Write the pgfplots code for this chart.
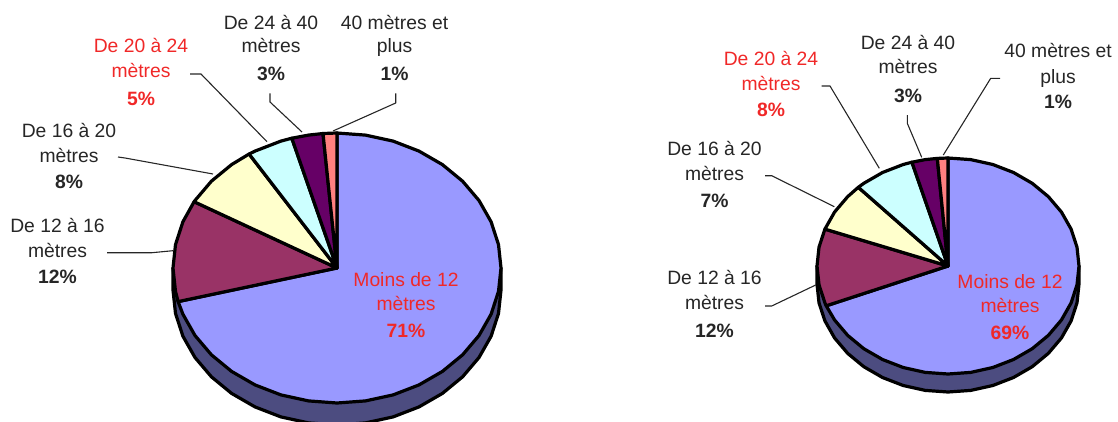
\documentclass[border=0pt]{standalone}
\usepackage{fontspec}
\setmainfont{Liberation Sans}
\usepackage{pgfplots}
\pgfplotsset{compat=1.18}
\definecolor{cA}{HTML}{9999FF}
\definecolor{cB}{HTML}{993366}
\definecolor{cC}{HTML}{FFFFCC}
\definecolor{cD}{HTML}{CCFFFF}
\definecolor{cE}{HTML}{660066}
\definecolor{cF}{HTML}{FF8080}
\definecolor{cS}{HTML}{4C4C80}
\definecolor{tk}{HTML}{262626}
\definecolor{tr}{HTML}{F02828}
\newcommand{\T}[4]{\node[anchor=base,inner sep=0pt,yshift=-7pt,text=#3,font=\fontsize{19.3}{21}\selectfont] at (axis cs:#1,#2) {#4};}
\newcommand{\B}[4]{\node[anchor=base,inner sep=0pt,yshift=-7pt,text=#3,font=\fontsize{19.3}{21}\selectfont\bfseries] at (axis cs:#1,#2) {#4};}
\begin{document}
\begin{tikzpicture}
\path[use as bounding box] (0,0) rectangle (1118pt,421pt);
\begin{axis}[at={(0,0)},anchor=south west,scale only axis,width=1118pt,height=421pt,
  xmin=0,xmax=1118,ymin=0,ymax=421,y dir=reverse,hide axis,no markers,
  every axis plot/.append style={sharp plot,line join=round}]
% ---------- left pie: side
\addplot[fill=cS,draw=black,line width=3.2pt] coordinates {(501,268)(501,290)(498.5,313.4)(491.1,336.2)(479,357.5)(462.6,376.8)(442.4,393.4)(419,406.9)(393.1,416.9)(365.5,422.9)(337,425)(308.5,422.9)(280.9,416.9)(255,406.9)(231.6,393.4)(211.4,376.8)(195,357.5)(182.9,336.2)(175.5,313.4)(173,290)(173,268)} -- cycle;
% slices
\addplot[fill=cA,draw=black,line width=3.2pt] coordinates {(337,268)(337,133)(365.5,135.1)(393.1,141.1)(419,151.1)(442.4,164.6)(462.6,181.2)(479,200.5)(491.1,221.8)(498.5,244.6)(501,268)(498.5,291.4)(491.1,314.2)(479,335.5)(462.6,354.8)(442.4,371.4)(419,384.9)(393.1,394.9)(365.5,400.9)(337,403)(308.5,400.9)(280.9,394.9)(255,384.9)(231.6,371.4)(211.4,354.8)(195,335.5)(182.9,314.2)(178.1,301.6)} -- cycle;
\addplot[fill=cB,draw=black,line width=3.2pt] coordinates {(337,268)(178.1,301.6)(175.5,291.4)(173,268)(175.5,244.6)(182.9,221.8)(194.1,201.7)} -- cycle;
\addplot[fill=cC,draw=black,line width=3.2pt] coordinates {(337,268)(194.1,201.7)(195,200.5)(211.4,181.2)(231.6,164.6)(249.1,154)} -- cycle;
\addplot[fill=cD,draw=black,line width=3.2pt] coordinates {(337,268)(249.1,154)(255,151.1)(280.9,141.1)(291.8,138.2)} -- cycle;
\addplot[fill=cE,draw=black,line width=3.2pt] coordinates {(337,268)(291.8,138.2)(308.5,135.1)(323,133.5)} -- cycle;
\addplot[fill=cF,draw=black,line width=3.2pt] coordinates {(337,268)(323,133.5)(337,133)} -- cycle;
% leaders
\addplot[draw=tk,line width=1.1pt] coordinates {(190,74)(201,74)(267,141.7)};
\addplot[draw=tk,line width=1.1pt] coordinates {(270,93.3)(270,102)(302,132)};
\addplot[draw=tk,line width=1.1pt] coordinates {(395.7,93.3)(395.7,103)(333,131)};
\addplot[draw=tk,line width=1.1pt] coordinates {(118,157)(125,158)(213,174)};
\addplot[draw=tk,line width=1.1pt] coordinates {(107,252.7)(152,252.7)(173,250.7)};
% ---------- right pie: side
\addplot[fill=cS,draw=black,line width=3.2pt] coordinates {(1079,266)(1079,284)(1077,302.8)(1071.1,320.9)(1061.4,338)(1048.3,353.4)(1032.2,366.7)(1013.5,377.5)(992.8,385.5)(970.7,390.4)(948,392)(925.3,390.4)(903.2,385.5)(882.5,377.5)(863.8,366.7)(847.7,353.4)(834.6,338)(824.9,320.9)(819,302.8)(817,284)(817,266)} -- cycle;
\addplot[fill=cA,draw=black,line width=3.2pt] coordinates {(948,266)(948,158)(970.7,159.6)(992.8,164.5)(1013.5,172.5)(1032.2,183.3)(1048.3,196.6)(1061.4,212)(1071.1,229.1)(1077,247.2)(1079,266)(1077,284.8)(1071.1,302.9)(1061.4,320)(1048.3,335.4)(1032.2,348.7)(1013.5,359.5)(992.8,367.5)(970.7,372.4)(948,374)(925.3,372.4)(903.2,367.5)(882.5,359.5)(863.8,348.7)(847.7,335.4)(834.6,320)(826.2,305.8)} -- cycle;
\addplot[fill=cB,draw=black,line width=3.2pt] coordinates {(948,266)(826.2,305.8)(824.9,302.9)(819,284.8)(817,266)(819,247.2)(824.9,229.1)} -- cycle;
\addplot[fill=cC,draw=black,line width=3.2pt] coordinates {(948,266)(824.9,229.1)(834.6,212)(847.7,196.6)(858.3,187.3)} -- cycle;
\addplot[fill=cD,draw=black,line width=3.2pt] coordinates {(948,266)(858.3,187.3)(863.8,183.3)(882.5,172.5)(903.2,164.5)(911.9,162.2)} -- cycle;
\addplot[fill=cE,draw=black,line width=3.2pt] coordinates {(948,266)(911.9,162.2)(925.3,159.6)(937.3,158.4)} -- cycle;
\addplot[fill=cF,draw=black,line width=3.2pt] coordinates {(948,266)(937.3,158.4)(948,158)} -- cycle;
\addplot[draw=tk,line width=1.1pt] coordinates {(821.7,86)(830,86)(879.3,168.3)};
\addplot[draw=tk,line width=1.1pt] coordinates {(907.3,115)(907.3,123.3)(921.7,157.3)};
\addplot[draw=tk,line width=1.1pt] coordinates {(1000,78.3)(990.7,78.3)(943.3,155)};
\addplot[draw=tk,line width=1.1pt] coordinates {(765,175.7)(771.7,175.7)(834.3,206.7)};
\addplot[draw=tk,line width=1.1pt] coordinates {(765,306)(771.7,306)(815.7,285)};
% ---------- left labels
\T{141}{45.7}{tr}{De 20 à 24}\T{141}{70}{tr}{mètres}\B{141}{98}{tr}{5\%}
\T{271}{22.7}{tk}{De 24 à 40}\T{271}{45}{tk}{mètres}\B{271}{73}{tk}{3\%}
\T{394.5}{22.7}{tk}{40 mètres et}\T{394.5}{45}{tk}{plus}\B{394.5}{73}{tk}{1\%}
\T{69}{130.7}{tk}{De 16 à 20}\T{69}{155}{tk}{mètres}\B{69}{181.7}{tk}{8\%}
\T{57.5}{225.7}{tk}{De 12 à 16}\T{57.5}{250}{tk}{mètres}\B{57.5}{276.7}{tk}{12\%}
\T{406}{279}{tr}{Moins de 12}\T{406}{303}{tr}{mètres}\B{406}{330}{tr}{71\%}
% ---------- right labels
\T{771}{58.3}{tr}{De 20 à 24}\T{771}{83.3}{tr}{mètres}\B{771}{109.3}{tr}{8\%}
\T{908}{42.7}{tk}{De 24 à 40}\T{908}{66.7}{tk}{mètres}\B{908}{95}{tk}{3\%}
\T{1058}{50.7}{tk}{40 mètres et}\T{1058}{76}{tk}{plus}\B{1058}{101.7}{tk}{1\%}
\T{714.5}{148.3}{tk}{De 16 à 20}\T{714.5}{173.3}{tk}{mètres}\B{714.5}{200}{tk}{7\%}
\T{714.5}{277.3}{tk}{De 12 à 16}\T{714.5}{302.7}{tk}{mètres}\B{714.5}{330.7}{tk}{12\%}
\T{1010}{281}{tr}{Moins de 12}\T{1010}{305.3}{tr}{mètres}\B{1010}{332.7}{tr}{69\%}
\end{axis}
\end{tikzpicture}
\end{document}
